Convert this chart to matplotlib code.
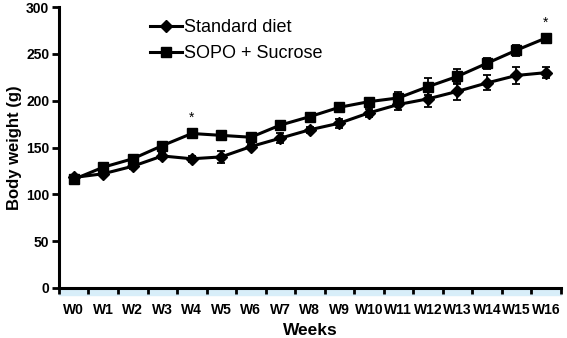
import numpy as np
import matplotlib.pyplot as plt
from matplotlib.patches import Rectangle
from matplotlib.lines import Line2D

weeks = ["W%d" % i for i in range(17)]
standard = [118, 122, 130, 141, 138, 140, 151, 160, 169, 176, 187, 196, 202, 210, 219, 227, 230]
standard_err = [2, 2, 3, 3, 3, 6, 3, 5, 3, 5, 4, 6, 9, 9, 8, 9, 6]
sopo = [116, 129, 138, 152, 165, 163, 161, 174, 183, 193, 199, 203, 215, 226, 240, 254, 267]
sopo_err = [2, 3, 3, 3, 3, 3, 3, 3, 3, 3, 4, 6, 9, 8, 6, 6, 3]
signif = [4, 16]

plt.rcParams['font.family'] = ['Liberation Sans', 'DejaVu Sans']

fig = plt.figure(figsize=(5.67, 3.38), dpi=100)
ax = fig.add_axes([0.104, 0.148, 0.885, 0.831])

x = np.arange(len(weeks))
ax.errorbar(x, standard, yerr=standard_err, color='black', lw=2.2, marker='D',
            markersize=6, capsize=3, elinewidth=1.3, capthick=1.3)
ax.errorbar(x, sopo, yerr=sopo_err, color='black', lw=2.2, marker='s',
            markersize=7.5, capsize=3, elinewidth=1.3, capthick=1.3)

for i in signif:
    ax.text(x[i], sopo[i] + 9, '*', ha='center', va='bottom', fontsize=10)

ax.set_xlim(-0.5, 16.5)
ax.set_ylim(0, 300)
ax.set_yticks(range(0, 301, 50))
ax.set_xticks(x)
ax.set_xticklabels(weeks)
ax.set_xticks(np.arange(-0.5, 17, 1), minor=True)
ax.tick_params(axis='x', which='major', length=0, pad=11)
ax.tick_params(axis='x', which='minor', length=4, width=2, direction='out')
ax.tick_params(axis='y', length=5, width=2, direction='out', pad=2)
for lab in ax.get_xticklabels() + ax.get_yticklabels():
    lab.set_fontweight('bold')
    lab.set_fontsize(10)

for s in ['top', 'right']:
    ax.spines[s].set_visible(False)
for s in ['left', 'bottom']:
    ax.spines[s].set_linewidth(2.2)

ax.set_xlabel('Weeks', fontsize=12.5, fontweight='bold', labelpad=4)
ax.set_ylabel('Body weight (g)', fontsize=12, fontweight='bold', labelpad=3)

handles = [Line2D([], [], color='black', lw=2.2, marker='D', markersize=6),
           Line2D([], [], color='black', lw=2.2, marker='s', markersize=7.5)]
ax.legend(handles, ['Standard diet', 'SOPO + Sucrose'], loc='upper left',
          bbox_to_anchor=(0.15, 1.014), frameon=False, fontsize=13,
          handlelength=1.75, handletextpad=0.1, labelspacing=0.5)

fig.patches.append(Rectangle((0.104, 0.128), 0.885, 0.018, transform=fig.transFigure,
                             color='#d8eef9', zorder=-1))

fig.savefig('out.png', dpi=100)
